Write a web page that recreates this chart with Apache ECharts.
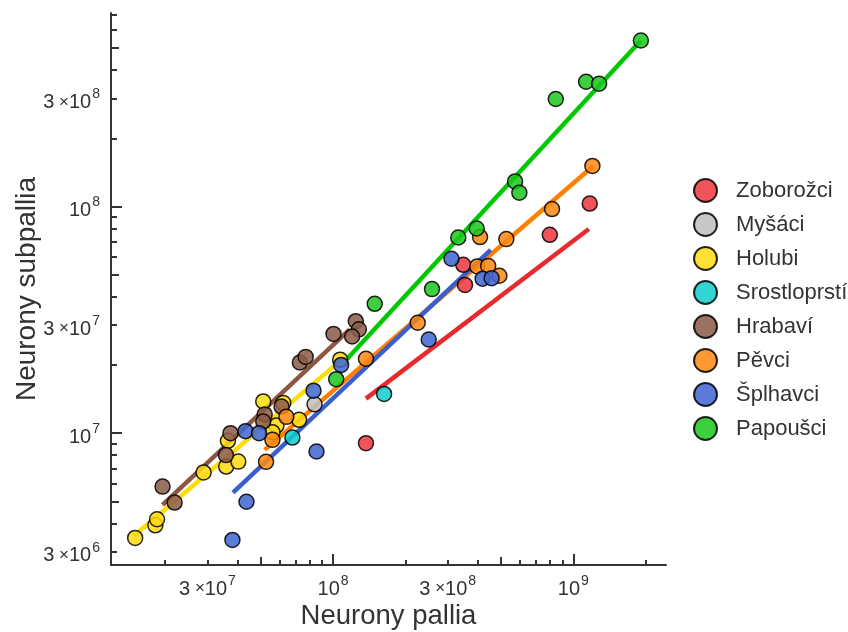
<!DOCTYPE html>
<html><head><meta charset="utf-8">
<script src="https://cdn.jsdelivr.net/npm/echarts@6/dist/echarts.min.js"></script>
<style>html,body{margin:0;padding:0;background:#fff}#c{width:848px;height:632px}</style>
</head><body><div id="c"></div>
<script>
// ---- categories ----
const groups = ['Zoborožci','Myšáci','Holubi','Srostloprstí','Hrabaví','Pěvci','Šplhavci','Papoušci'];
const pointColors = ['#ED363D','#BEBEBE','#FFDA0F','#0FCCCC','#8B5B47','#FF870F','#3E64D2','#1BC71B'];
const fitColors = ['#E8292E',null,'#FFDD00',null,'#8B5742','#FF8000','#3A5FCD','#00C800'];

// ---- data: [neurony pallia, neurony subpallia] ----
const zoborozciPts = [[1.17e9,1.03e8],[7.98e8,7.50e7],[3.48e8,5.53e7],[3.54e8,4.51e7],[1.37e8,9.03e6]];
const mysaciPts = [[8.37e7,1.34e7]];
const holubiPts = [[1.50e7,3.45e6],[1.82e7,3.92e6],[1.85e7,4.17e6],[2.89e7,6.71e6],[3.59e7,7.12e6],[4.03e7,7.49e6],[3.65e7,9.25e6],[5.12e7,1.38e7],[6.20e7,1.36e7],[5.81e7,1.08e7],[5.59e7,1.01e7],[7.22e7,1.145e7],[1.07e8,2.11e7]];
const srostloprstiPts = [[1.63e8,1.49e7],[6.77e7,9.56e6]];
const hrabaviPts = [[1.95e7,5.81e6],[2.19e7,4.94e6],[3.58e7,8.00e6],[3.74e7,1.00e7],[5.19e7,1.21e7],[5.12e7,1.125e7],[6.10e7,1.31e7],[7.27e7,2.05e7],[7.69e7,2.17e7],[1.004e8,2.74e7],[1.243e8,3.12e7],[1.28e8,2.87e7],[1.20e8,2.67e7]];
const pevciPts = [[1.20e9,1.51e8],[8.15e8,9.74e7],[5.26e8,7.18e7],[4.09e8,7.33e7],[3.98e8,5.44e7],[4.42e8,5.47e7],[4.92e8,4.95e7],[2.25e8,3.07e7],[1.37e8,2.13e7],[6.39e7,1.18e7],[5.59e7,9.34e6],[5.26e7,7.47e6]];
const splhavciPts = [[3.11e8,5.88e7],[4.19e8,4.80e7],[4.57e8,4.83e7],[2.50e8,2.59e7],[1.08e8,2.00e7],[8.29e7,1.54e7],[8.53e7,8.30e6],[4.32e7,1.02e7],[4.92e7,1.00e7],[4.36e7,4.98e6],[3.81e7,3.38e6]];
const papousciPts = [[1.91e9,5.40e8],[1.13e9,3.55e8],[1.28e9,3.48e8],[8.45e8,2.98e8],[5.72e8,1.29e8],[5.96e8,1.15e8],[3.96e8,8.00e7],[3.32e8,7.30e7],[2.58e8,4.32e7],[1.49e8,3.72e7],[1.03e8,1.73e7]];

// ---- fitted lines (end points) ----
const zoborozciFit = [[1.37e8,1.42e7],[1.16e9,7.95e7]];
const holubiFit = [[1.48e7,3.52e6],[1.12e8,2.17e7]];
const hrabaviFit = [[1.95e7,4.83e6],[1.17e8,2.86e7]];
const pevciFit = [[5.19e7,8.44e6],[1.21e9,1.51e8]];
const splhavciFit = [[3.83e7,5.47e6],[4.53e8,6.44e7]];
const papousciFit = [[1.14e8,2.12e7],[1.91e9,5.40e8]];

// ---- axes / ticks ----
const X_RANGE = [1.19e7, 2.43e9];
const Y_RANGE = [2.62e6, 7.14e8];
const xMinorTicks = [2e7,3e7,4e7,6e7,7e7,8e7,9e7,2e8,3e8,4e8,6e8,7e8,8e8,9e8,2e9];
const xMidTicks = [5e7,5e8];
const xMajorTicks = [1e8,1e9];
const xLabelTicks = [3e7,1e8,3e8,1e9];
const yMinorTicks = [3e6,4e6,6e6,7e6,8e6,9e6,2e7,3e7,4e7,6e7,7e7,8e7,9e7,2e8,3e8,4e8,6e8,7e8];
const yMidTicks = [5e6,5e7,5e8];
const yMajorTicks = [1e7,1e8];
const yLabelTicks = [3e6,1e7,3e7,1e8,3e8];

const FONT = 'Liberation Sans, Arial, Helvetica, sans-serif';
const TXT = '#333333';
const ptsList = [zoborozciPts,mysaciPts,holubiPts,srostloprstiPts,hrabaviPts,pevciPts,splhavciPts,papousciPts];
const fitList = [zoborozciFit,null,holubiFit,null,hrabaviFit,pevciFit,splhavciFit,papousciFit];

function fmtLog(v){
  const e = Math.floor(v + 1e-6);
  const m = Math.round(Math.pow(10, v - e));
  return (m === 1 ? '' : '{b|' + m + '}{x| ×}') + '{b|10}{s|' + e + '}';
}
const richLbl = {
  b:{fontSize:20, fontFamily:FONT, color:TXT, lineHeight:28, verticalAlign:'bottom'},
  x:{fontSize:17, fontFamily:FONT, color:TXT, lineHeight:28, padding:[0,0,2,0], verticalAlign:'bottom'},
  s:{fontSize:14, fontFamily:FONT, color:TXT, lineHeight:17, padding:[3,0,0,1], verticalAlign:'top'}
};
function tickAxis(kind, range, vals, len, labels){
  const a = {
    type:'value', gridIndex:0,
    position: kind === 'x' ? 'bottom' : 'left',
    min: Math.log10(range[0]), max: Math.log10(range[1]),
    axisLine:{show:false, onZero:false},
    splitLine:{show:false},
    axisTick:{show:true, inside:true, length:len, customValues: vals.map(Math.log10),
              lineStyle:{color:TXT, width:2}},
    axisLabel:{show:false}
  };
  if (labels) {
    a.axisLabel = {show:true, customValues: labels.map(Math.log10), formatter: fmtLog,
                   margin: kind === 'x' ? 6 : 11, rich: richLbl};
  }
  return a;
}

const series = [];
fitList.forEach((f, i) => {
  if (!f) return;
  series.push({type:'line', name: groups[i] + ' fit', data: f, xAxisIndex:0, yAxisIndex:0,
    symbol:'none', z:1, silent:true,
    lineStyle:{color: fitColors[i], width:4.5}});
});
ptsList.forEach((p, i) => {
  series.push({type:'scatter', name: groups[i], data: p, xAxisIndex:0, yAxisIndex:0,
    symbol:'circle', symbolSize:15, z:3,
    itemStyle:{color: pointColors[i], borderColor:'#000', borderWidth:1.5, opacity:0.85}});
});

const chart = echarts.init(document.getElementById('c'), null, {renderer:'canvas'});
chart.setOption({
  animation:false,
  backgroundColor:'#ffffff',
  textStyle:{fontFamily:FONT},
  grid:{left:111, right:182, top:13, bottom:67, containLabel:false, outerBoundsMode:'none'},
  legend:{
    data: groups, orient:'vertical', left:693, top:178, padding:0, icon:'circle',
    itemWidth:23, itemHeight:23, itemGap:9,
    textStyle:{fontSize:22, color:TXT, fontFamily:FONT, padding:[0,0,0,14]}
  },
  xAxis:[
    {type:'log', logBase:10, min:X_RANGE[0], max:X_RANGE[1], position:'bottom',
     name:'Neurony pallia', nameLocation:'middle', nameGap:37,
     nameTextStyle:{fontSize:27.5, color:TXT, fontFamily:FONT},
     axisLine:{show:true, onZero:false, lineStyle:{color:TXT, width:2}},
     axisTick:{show:false}, axisLabel:{show:false}, splitLine:{show:false}, minorTick:{show:false}},
    tickAxis('x', X_RANGE, xMinorTicks, 5, xLabelTicks),
    tickAxis('x', X_RANGE, xMidTicks, 8, null),
    tickAxis('x', X_RANGE, xMajorTicks, 11, null)
  ],
  yAxis:[
    {type:'log', logBase:10, min:Y_RANGE[0], max:Y_RANGE[1], position:'left',
     name:'Neurony subpallia', nameLocation:'middle', nameGap:70,
     nameTextStyle:{fontSize:28, color:TXT, fontFamily:FONT},
     axisLine:{show:true, onZero:false, lineStyle:{color:TXT, width:2}},
     axisTick:{show:false}, axisLabel:{show:false}, splitLine:{show:false}, minorTick:{show:false}},
    tickAxis('y', Y_RANGE, yMinorTicks, 6, yLabelTicks),
    tickAxis('y', Y_RANGE, yMidTicks, 8, null),
    tickAxis('y', Y_RANGE, yMajorTicks, 11, null)
  ],
  series: series
});
</script></body></html>
